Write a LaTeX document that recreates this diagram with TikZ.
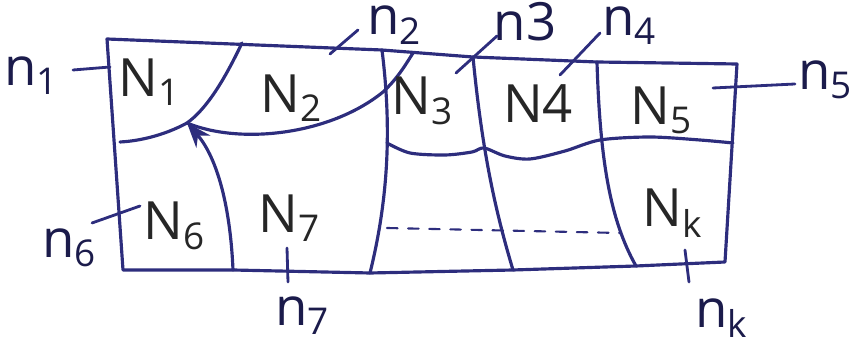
\documentclass[tikz,border=0pt]{standalone}
\usepackage{fontspec}
\setmainfont{Open Sans}
\usetikzlibrary{arrows.meta}
\definecolor{ink}{RGB}{45,45,125}
\begin{document}
\begin{tikzpicture}[
        x=0.01cm, y=-0.01cm,
        >=Stealth, % arrow tip
        edge/.style={ink, line width=0.9pt, line cap=round, line join=round},
        tick/.style={ink, line width=0.8pt, line cap=round},
        region/.style={font=\fontsize{15}{15}\selectfont, text=black!85, inner sep=0pt},
        tag/.style={font=\fontsize{15}{15}\selectfont, text=ink!60!black, inner sep=0pt}
    ]
    \useasboundingbox (0,0) rectangle (866,349);

    % outer boundary
    \coordinate (TL) at (107,39);
    \coordinate (T3) at (382,50);
    \coordinate (T4) at (473,57);
    \coordinate (T5) at (597,62);
    \coordinate (TR) at (737,64);
    \coordinate (BR) at (725,262);
    \coordinate (B5) at (636,266);
    \coordinate (B4) at (513,270);
    \coordinate (B3) at (370,273);
    \coordinate (B2) at (233,270);
    \coordinate (BL) at (123,270);
    \draw[edge] (TL) -- (T3) -- (T4) -- (T5) -- (TR) -- (BR) -- (B5) -- (B4) -- (B3) -- (B2) -- (BL) -- cycle;

    % curved cuts between N1, N2 and the lower row
    \coordinate (J) at (187,123);
    \draw[edge] (242,43) .. controls (222,85) and (205,110) .. (J) .. controls (165,135) and (140,141) .. (120,142);
    \draw[edge] (J) .. controls (240,145) and (330,135) .. (383,92) .. controls (398,78) and (406,64) .. (413,53);
    \draw[edge, ->] (B2) .. controls (230,200) and (215,155) .. (J);

    % vertical cuts
    \draw[edge] (T3) .. controls (392,130) and (388,200) .. (B3);
    \draw[edge] (T4) .. controls (482,150) and (495,210) .. (B4);
    \draw[edge] (T5) .. controls (600,160) and (610,220) .. (B5);

    % wavy line under N3, N4, N5
    \draw[edge] plot[smooth] coordinates {(387,143) (410,153) (445,155) (472,152) (484,148)
        (505,156) (530,159) (565,151) (600,140) (650,137) (700,140) (733,143)};

    % dashed row
    \draw[edge, dashed, line width=0.6pt] (387,228) -- (620,233);

    % region labels
    \node[region] (N1) at (150,82)  {N\textsubscript{1}};
    \node[region] (N2) at (292,98)  {N\textsubscript{2}};
    \node[region] (N3) at (423,101) {N\textsubscript{3}};
    \node[region] (N4) at (538,104) {N4};
    \node[region] (N5) at (662,110) {N\textsubscript{5}};
    \node[region] (N6) at (175,226) {N\textsubscript{6}};
    \node[region] (N7) at (290,218) {N\textsubscript{7}};
    \node[region] (Nk) at (673,213) {N\textsubscript{k}};

    % boundary labels and their ticks
    \node[tag] (n1) at (32,76)  {n\textsubscript{1}};
    \node[tag] (n2) at (395,25) {n\textsubscript{2}};
    \node[tag] (n3) at (525,22) {n3};
    \node[tag] (n4) at (630,26) {n\textsubscript{4}};
    \node[tag] (n5) at (826,80) {n\textsubscript{5}};
    \node[tag] (n6) at (70,248) {n\textsubscript{6}};
    \node[tag] (n7) at (303,316) {n\textsubscript{7}};
    \node[tag] (nk) at (722,318) {n\textsubscript{k}};

    \coordinate (a1) at (73,70);   \coordinate (b1) at (110,67);
    \coordinate (a2) at (330,54);  \coordinate (b2) at (358,30);
    \coordinate (a3) at (456,73);  \coordinate (b3) at (497,36);
    \coordinate (a4) at (560,75);  \coordinate (b4) at (600,33);
    \coordinate (a5) at (713,88);  \coordinate (b5) at (795,84);
    \coordinate (a6) at (92,223);  \coordinate (b6) at (140,206);
    \coordinate (a7) at (287,248); \coordinate (b7) at (288,282);
    \coordinate (ak) at (685,250); \coordinate (bk) at (689,282);
    \foreach \i in {1,...,7,k}
        \draw[tick] (a\i) -- (b\i);

\end{tikzpicture}
\end{document}
